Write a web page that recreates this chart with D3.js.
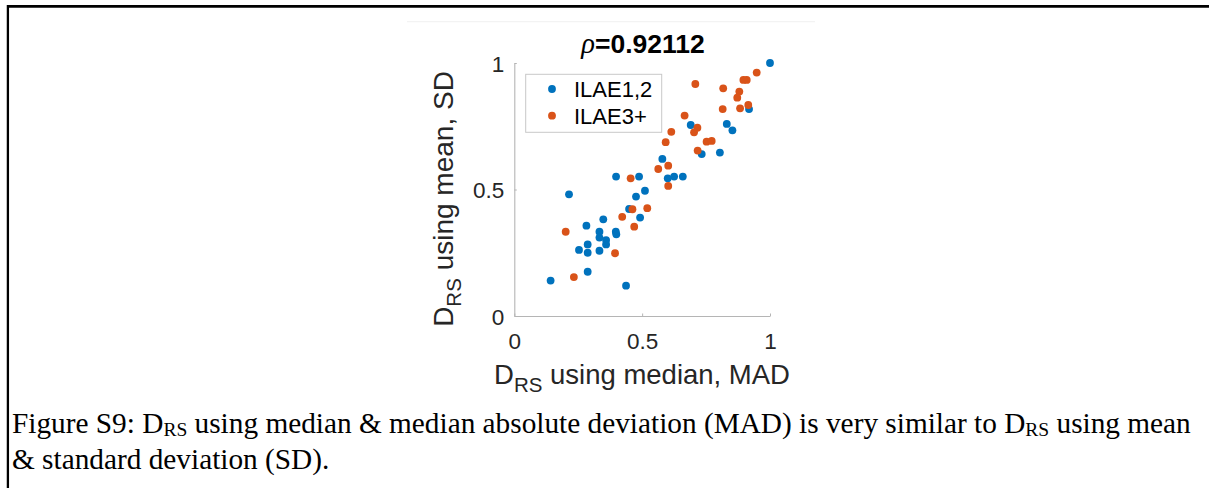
<!DOCTYPE html>
<meta charset="utf-8">
<style>
body { margin: 0; background: #fff; }
svg { display: block; }
.tick text { fill: #262626; }
</style>
<svg width="1209" height="488"></svg>
<script src="https://d3js.org/d3.v7.min.js"></script>
<script>
// values
var groups = ["ILAE1,2", "ILAE3+"];
var colors = ["#0072BD", "#D95319"];

var ilae12X = [1.0, 0.918, 0.690, 0.831, 0.853, 0.733, 0.804, 0.579, 0.398, 0.488, 0.600, 0.625, 0.659,
               0.214, 0.511, 0.476, 0.449, 0.492, 0.348, 0.282, 0.333, 0.397, 0.399, 0.333, 0.359,
               0.359, 0.287, 0.253, 0.287, 0.333, 0.287, 0.142, 0.437];
var ilae12Y = [1.0, 0.818, 0.755, 0.759, 0.734, 0.640, 0.646, 0.621, 0.551, 0.551, 0.544, 0.551, 0.551,
               0.481, 0.495, 0.472, 0.423, 0.389, 0.382, 0.357, 0.333, 0.333, 0.323, 0.310, 0.300,
               0.283, 0.283, 0.261, 0.250, 0.258, 0.175, 0.140, 0.120];

var ilae3X = [0.948, 0.909, 0.896, 0.708, 0.817, 0.880, 0.872, 0.815, 0.883, 0.915, 0.666, 0.716, 0.703,
              0.614, 0.592, 0.752, 0.772, 0.717, 0.563, 0.602, 0.455, 0.602, 0.462, 0.520, 0.422,
              0.469, 0.201, 0.394, 0.233];
var ilae3Y = [0.962, 0.933, 0.933, 0.917, 0.900, 0.887, 0.863, 0.818, 0.821, 0.834, 0.792, 0.744, 0.726,
              0.728, 0.687, 0.689, 0.692, 0.654, 0.581, 0.594, 0.544, 0.514, 0.422, 0.426, 0.392,
              0.353, 0.333, 0.248, 0.154];

var xTicks = [0, 0.5, 1];
var yTicks = [0, 0.5, 1];
var rho = "0.92112";

var svg = d3.select("svg");
svg.append("rect").attr("width", 1209).attr("height", 488).attr("fill", "#fff");

// page frame
svg.append("line").attr("x1", 7).attr("x2", 1209).attr("y1", 6.3).attr("y2", 6.3)
    .attr("stroke", "#000").attr("stroke-width", 2.8);
svg.append("line").attr("x1", 7.9).attr("x2", 7.9).attr("y1", 5).attr("y2", 488)
    .attr("stroke", "#000").attr("stroke-width", 2.3);
// faint edge of the embedded image
svg.append("line").attr("x1", 407).attr("x2", 815).attr("y1", 21.7).attr("y2", 21.7)
    .attr("stroke", "#f0f0f0").attr("stroke-width", 1);

var x = d3.scaleLinear().domain([0, 1]).range([514.3, 770]);
var y = d3.scaleLinear().domain([0, 1]).range([316, 63]);

var data = [
  ilae12X.map(function(v, i){ return {x: v, y: ilae12Y[i]}; }),
  ilae3X.map(function(v, i){ return {x: v, y: ilae3Y[i]}; })
];

// axes (box off, ticks inward)
var gx = svg.append("g").attr("transform", "translate(0," + y(0) + ")")
    .call(d3.axisBottom(x).tickValues(xTicks).tickSizeInner(-2.5).tickSizeOuter(0)
          .tickFormat(d3.format("~g")));
var gy = svg.append("g").attr("transform", "translate(" + x(0) + ",0)")
    .call(d3.axisLeft(y).tickValues(yTicks).tickSizeInner(-2.5).tickSizeOuter(0)
          .tickFormat(d3.format("~g")));

[gx, gy].forEach(function(g){
  g.select(".domain").attr("stroke", "#b5b5b5").attr("stroke-width", 1.1);
  g.selectAll(".tick line").attr("stroke", "#b5b5b5");
  g.selectAll(".tick text").attr("font-family", "Liberation Sans, Arial, sans-serif")
    .attr("font-size", 22.5);
});
gx.selectAll(".tick text").attr("y", 33).attr("dy", null);
gy.selectAll(".tick text").attr("x", -10).attr("dy", "0.36em");

// points, ILAE3+ drawn over ILAE1,2
svg.append("g").selectAll("g")
  .data(data).enter().append("g")
    .attr("fill", function(d, i){ return colors[i]; })
  .selectAll("circle")
  .data(function(d){ return d; }).enter().append("circle")
    .attr("cx", function(d){ return x(d.x); })
    .attr("cy", function(d){ return y(d.y); })
    .attr("r", 3.9);

// title
svg.append("text")
    .attr("x", 643).attr("y", 52.5)
    .attr("text-anchor", "middle")
    .attr("font-family", "Liberation Sans, Arial, sans-serif")
    .attr("font-size", 26.5).attr("fill", "#000")
    .call(function(t){
      t.append("tspan").attr("font-style", "italic").attr("font-family", "Liberation Serif, serif")
        .attr("font-size", 28.5).text("\u03C1");
      t.append("tspan").attr("font-weight", "bold").text("=" + rho);
    });

// axis labels
function dLabel(sel, rest) {
  sel.append("tspan").text("D");
  sel.append("tspan").attr("font-size", 20.5).attr("dy", 8.5).text("RS");
  sel.append("tspan").attr("dy", -8.5).text(" " + rest);
}
svg.append("text")
    .attr("x", 642).attr("y", 383.5)
    .attr("text-anchor", "middle")
    .attr("font-family", "Liberation Sans, Arial, sans-serif")
    .attr("font-size", 27.5).attr("fill", "#262626")
    .call(dLabel, "using median, MAD");
svg.append("text")
    .attr("transform", "translate(452.5,199) rotate(-90)")
    .attr("text-anchor", "middle")
    .attr("font-family", "Liberation Sans, Arial, sans-serif")
    .attr("font-size", 28).attr("fill", "#262626")
    .call(dLabel, "using mean, SD");

// legend
var legend = svg.append("g");
legend.append("rect")
    .attr("x", 525.7).attr("y", 74.3).attr("width", 136).attr("height", 58)
    .attr("fill", "#fff").attr("stroke", "#c8c8c8").attr("stroke-width", 1);
var item = legend.selectAll("g.item").data(groups).enter().append("g")
    .attr("class", "item")
    .attr("transform", function(d, i){ return "translate(552," + (89 + i * 26.7) + ")"; });
item.append("circle").attr("r", 3.9).attr("fill", function(d, i){ return colors[i]; });
item.append("text").attr("x", 22).attr("y", 8)
    .attr("font-family", "Liberation Sans, Arial, sans-serif")
    .attr("font-size", 22).attr("fill", "#000")
    .text(function(d){ return d; });

// caption
var cap = svg.append("g")
    .attr("font-family", "Liberation Serif, Times New Roman, serif")
    .attr("font-size", 29.3).attr("fill", "#000");
var l1 = cap.append("text").attr("x", 12).attr("y", 433);
l1.append("tspan").text("Figure S9: D");
l1.append("tspan").attr("font-size", 19.5).attr("dy", 3).text("RS");
l1.append("tspan").attr("dy", -3).text(" using median & median absolute deviation (MAD) is very similar to D");
l1.append("tspan").attr("font-size", 19.5).attr("dy", 3).text("RS");
l1.append("tspan").attr("dy", -3).text(" using mean");
cap.append("text").attr("x", 12).attr("y", 469).text("& standard deviation (SD).");
</script>
